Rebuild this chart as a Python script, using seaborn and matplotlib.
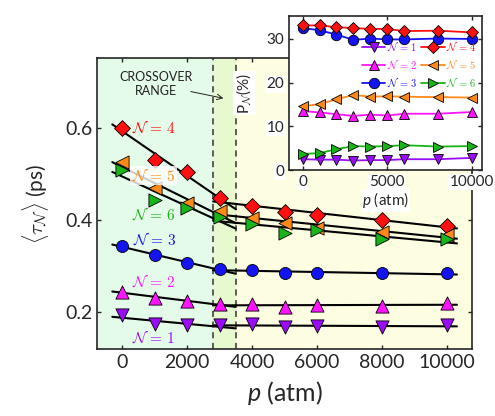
import numpy as np
import matplotlib
matplotlib.use("Agg")
import matplotlib.pyplot as plt
from matplotlib.font_manager import FontProperties
import seaborn as sns

# presion (atm)
pressure = [0, 1000, 2000, 3000, 4000, 5000, 6000, 8000, 10000]

# <tau_N> (ps)
tau_n1 = [0.193, 0.175, 0.172, 0.172, 0.174, 0.168, 0.170, 0.167, 0.172]
tau_n2 = [0.244, 0.231, 0.224, 0.217, 0.217, 0.211, 0.215, 0.213, 0.219]
tau_n3 = [0.343, 0.324, 0.307, 0.293, 0.291, 0.286, 0.285, 0.284, 0.284]
tau_n4 = [0.600, 0.530, 0.504, 0.447, 0.430, 0.417, 0.410, 0.400, 0.388]
tau_n5 = [0.525, 0.470, 0.436, 0.420, 0.404, 0.393, 0.382, 0.375, 0.367]
tau_n6 = [0.509, 0.443, 0.425, 0.407, 0.391, 0.372, 0.378, 0.358, 0.359]

# P_N (%)
pop_n1 = [2.5, 2.4, 2.4, 2.2, 2.3, 2.3, 2.5, 2.5, 2.8]
pop_n2 = [13.5, 13.2, 12.8, 12.4, 12.7, 12.5, 12.9, 12.9, 13.3]
pop_n3 = [32.5, 32.0, 31.0, 29.8, 30.1, 29.9, 29.9, 30.1, 30.0]
pop_n4 = [33.1, 33.1, 32.7, 32.5, 32.3, 32.3, 31.8, 31.9, 31.5]
pop_n5 = [14.6, 15.1, 16.2, 17.2, 16.8, 16.9, 16.8, 16.7, 16.6]
pop_n6 = [3.7, 3.9, 4.8, 5.5, 5.4, 5.5, 5.7, 5.4, 5.5]

labels = [r'$\mathcal{N}\mathbf{\,=\,%d}$' % k for k in range(1, 7)]
colors = ['#9a0cf5', '#ff14ff', '#1414f0', '#ff1010', '#ff8a1a', '#18b418']
markers = ['v', '^', 'o', 'D', '<', '>']
sizes = [90, 90, 75, 65, 90, 90]

crossover = (2800, 3500)

sns.set_style('ticks')
plt.rcParams.update({
    'font.family': ['Lato', 'DejaVu Sans'],
    'mathtext.fontset': 'custom',
    'mathtext.rm': 'Lato',
    'mathtext.it': 'Lato:italic',
    'axes.linewidth': 1.2,
    'xtick.direction': 'in',
    'ytick.direction': 'in',
})

fig = plt.figure(figsize=(4.95, 4.16), dpi=100)
ax = fig.add_axes([0.196, 0.161, 0.758, 0.700])

xmin, xmax = -770, 10770
ax.axvspan(xmin, crossover[0], color='#e5fbe9', zorder=0, lw=0)
ax.axvspan(crossover[0], crossover[1], color='#e6f9cf', zorder=0, lw=0)
ax.axvspan(crossover[1], xmax, color='#fdfde2', zorder=0, lw=0)
for xc in crossover:
    ax.axvline(xc, color='#333333', ls=(0, (4, 3)), lw=1.1, zorder=1)

p = np.array(pressure)
series = [tau_n1, tau_n2, tau_n3, tau_n4, tau_n5, tau_n6]
for vals, c, m, s in zip(series, colors, markers, sizes):
    v = np.array(vals)
    lo = p <= 3000
    hi = p >= 3000
    f1 = np.polyfit(p[lo], v[lo], 1)
    f2 = np.polyfit(p[hi], v[hi], 1)
    x1 = np.array([-300, 3500])
    x2 = np.array([2800, 10300])
    ax.plot(x1, np.polyval(f1, x1), color='black', lw=1.5, zorder=2)
    ax.plot(x2, np.polyval(f2, x2), color='black', lw=1.5, zorder=2)
    sns.scatterplot(x=p, y=v, marker=m, s=s, color=c, edgecolor='black',
                    linewidth=0.6, ax=ax, zorder=3)

# etiquetas N
label_pos = [(300, 0.146), (300, 0.266), (330, 0.357), (300, 0.602), (300, 0.496), (300, 0.413)]
for (lx, ly), lab, c, k in zip(label_pos, labels, colors, range(6)):
    bbox = dict(facecolor='white', edgecolor='none', alpha=0.8, pad=1) if k == 4 else None
    ax.text(lx, ly, lab, color=c, fontsize=11, ha='left', va='center', zorder=4, bbox=bbox,
            math_fontfamily='cm')

ax.text(1046, 0.695, 'CROSSOVER\nRANGE', fontsize=9, ha='center', va='center',
        linespacing=1.25, color='#222222')
ax.annotate('', xy=(3200, 0.663), xytext=(2030, 0.680),
            arrowprops=dict(arrowstyle='->', lw=0.7, color='#222222'))

ax.set_xlim(xmin, xmax)
ax.set_ylim(0.12, 0.752)
ax.set_xticks([0, 2000, 4000, 6000, 8000, 10000])
ax.set_yticks([0.2, 0.4, 0.6])
ax.tick_params(labelsize=14, top=True, right=True, length=3, width=1)
ax.set_xlabel(r'$p$ (atm)', fontsize=18, labelpad=6)
ax.set_ylabel(r'$\langle\tau_{\mathcal{N}}\rangle$ (ps)', fontsize=15, labelpad=10,
              math_fontfamily='cm')

# inset
axin = fig.add_axes([0.584, 0.591, 0.390, 0.371])
axin.set_facecolor('white')
pops = [pop_n1, pop_n2, pop_n3, pop_n4, pop_n5, pop_n6]
for vals, c, m, lab in zip(pops, colors, markers, labels):
    sns.lineplot(x=pressure, y=vals, color=c, marker=m, markersize=7.5 if m != 'D' else 6.5,
                 markeredgecolor='black', markeredgewidth=0.6, lw=1.3, label=lab, ax=axin)
axin.set_xlim(-800, 10600)
axin.set_ylim(0, 35.3)
axin.set_xticks([0, 5000, 10000])
axin.set_yticks([0, 10, 20, 30])
axin.tick_params(labelsize=11, top=True, right=True, length=3, width=1)
for t in axin.get_xticklabels() + axin.get_yticklabels():
    t.set_bbox(dict(facecolor='white', edgecolor='none', pad=1))
axin.set_xlabel(r'$p$ (atm)', fontsize=11, labelpad=1,
                bbox=dict(facecolor='white', edgecolor='none', pad=1))
axin.set_ylabel(r'P$_{\mathcal{N}}$(%)', fontsize=11, labelpad=9, math_fontfamily='cm',
                bbox=dict(facecolor='white', edgecolor='none', pad=1))
leg_font = FontProperties(family=['Lato'], size=7.5, math_fontfamily='cm')
leg = axin.legend(ncol=2, loc='upper right', bbox_to_anchor=(1.02, 0.90), frameon=False,
                  prop=leg_font, handlelength=2.3, handletextpad=0.1, columnspacing=0.4,
                  labelspacing=0.55)
for txt, c in zip(leg.get_texts(), colors):
    txt.set_color(c)

fig.savefig('out.png', dpi=100)
